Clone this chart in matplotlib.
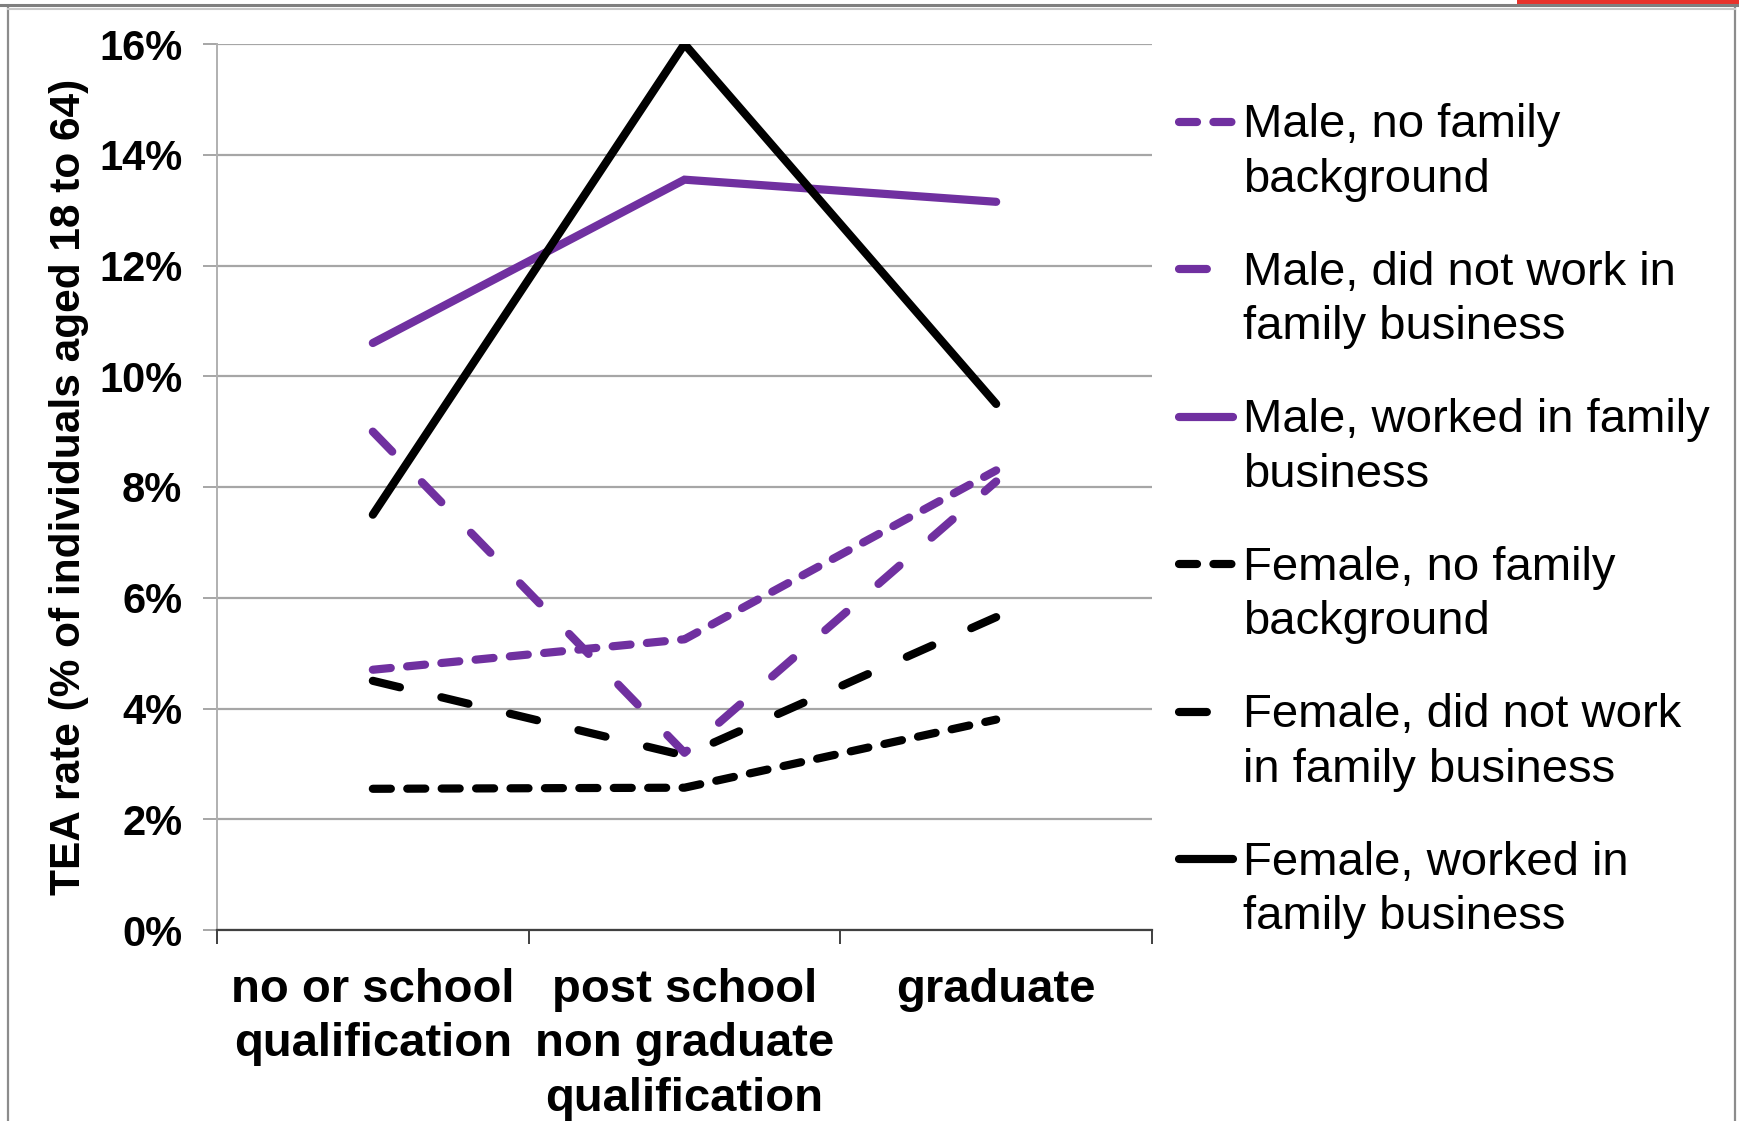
import numpy as np
import matplotlib
matplotlib.use("Agg")
import matplotlib.pyplot as plt
from matplotlib.legend_handler import HandlerLine2D
from matplotlib.lines import Line2D
from matplotlib.patches import Rectangle

# Education levels (x categories)
categories = ["no or school\nqualification",
              "post school\nnon graduate\nqualification",
              "graduate"]

# TEA rate, % of individuals aged 18 to 64
male_no_family = [4.7, 5.25, 8.3]
male_not_worked_family = [9.0, 3.2, 8.1]
male_worked_family = [10.6, 13.55, 13.15]
female_no_family = [2.55, 2.57, 3.8]
female_not_worked_family = [4.5, 3.15, 5.65]
female_worked_family = [7.5, 16.0, 9.5]

series_labels = ["Male, no family\nbackground",
                 "Male, did not work in\nfamily business",
                 "Male, worked in family\nbusiness",
                 "Female, no family\nbackground",
                 "Female, did not work\nin family business",
                 "Female, worked in\nfamily business"]

y_ticks = [0, 2, 4, 6, 8, 10, 12, 14, 16]

PURPLE = "#7030A0"
BLACK = "#000000"
SHORT_DASH = (2.2, 2.0)
LONG_DASH = (3.4, 5.2)

plt.rcParams["font.family"] = ["Liberation Sans", "DejaVu Sans"]

fig = plt.figure(figsize=(17.4, 11.21), dpi=100)
ax = fig.add_axes([217 / 1740, 1 - 930 / 1121, 935 / 1740, 886 / 1121])

x = np.arange(len(categories))
lw = 5.9
series = [
    (male_no_family, PURPLE, SHORT_DASH),
    (male_not_worked_family, PURPLE, LONG_DASH),
    (male_worked_family, PURPLE, None),
    (female_no_family, BLACK, SHORT_DASH),
    (female_not_worked_family, BLACK, LONG_DASH),
    (female_worked_family, BLACK, None),
]
handles = []
for (vals, col, dash), lab in zip(series, series_labels):
    kw = dict(color=col, lw=lw, solid_capstyle="round", dash_capstyle="round",
              solid_joinstyle="miter", label=lab)
    if dash is not None:
        kw["dashes"] = dash
    (ln,) = ax.plot(x, vals, **kw)
    handles.append(ln)

# y axis
ax.set_ylim(0, 16)
ax.set_yticks(y_ticks)
ax.set_yticklabels([f"{v}%" for v in y_ticks], fontsize=30, fontweight="bold")
ax.yaxis.grid(True, color="#a6a6a6", lw=1.6)
ax.set_axisbelow(True)
ax.tick_params(axis="y", length=10, width=1.4, color="#a6a6a6", pad=15)
ax.set_ylabel("TEA rate (% of individuals aged 18 to 64)", fontsize=30.5,
              fontweight="bold")
ax.yaxis.set_label_coords(-0.137, 0.5)

# x axis: boundary ticks, labels centred on categories
ax.set_xlim(-0.5, len(categories) - 0.5)
ax.set_xticks(np.arange(len(categories) + 1) - 0.5)
ax.set_xticklabels([])
ax.set_xticks(x, minor=True)
ax.set_xticklabels(categories, minor=True, fontsize=34, fontweight="bold",
                   linespacing=1.32)
ax.tick_params(axis="x", which="major", length=10, width=1.4, color="#404040")
ax.tick_params(axis="x", which="minor", length=0, pad=27)

for s in ("top", "right"):
    ax.spines[s].set_visible(False)
ax.spines["left"].set_color("#b0b0b0")
ax.spines["left"].set_linewidth(1.4)
ax.spines["bottom"].set_color("#404040")
ax.spines["bottom"].set_linewidth(1.6)


class FirstLineHandler(HandlerLine2D):
    """Place the legend line next to the first line of a two-line label."""

    def create_artists(self, legend, orig_handle, xdescent, ydescent, width,
                       height, fontsize, trans):
        artists = super().create_artists(legend, orig_handle, xdescent,
                                         ydescent, width, height, fontsize,
                                         trans)
        for a in artists:
            a.set_ydata(np.asarray(a.get_ydata()) + 0.66 * fontsize)
        return artists


leg = fig.legend(handles=handles, loc="upper left",
                 bbox_to_anchor=(1179 / 1740, 1 - 103 / 1121),
                 frameon=False, fontsize=34, borderpad=0, borderaxespad=0,
                 handlelength=1.14, handletextpad=0.22, labelspacing=1.03,
                 handler_map={Line2D: FirstLineHandler()})
for t in leg.get_texts():
    t.set_linespacing(1.32)

# outer chart frame
fig.add_artist(Line2D([8 / 1740, 8 / 1740], [0, 1 - 6 / 1121],
                      transform=fig.transFigure, color="#8c8c8c", lw=1.6))
fig.add_artist(Line2D([1735 / 1740, 1735 / 1740], [0, 1 - 6 / 1121],
                      transform=fig.transFigure, color="#8c8c8c", lw=1.6))
fig.add_artist(Line2D([0, 1], [1 - 5 / 1121, 1 - 5 / 1121],
                      transform=fig.transFigure, color="#7f7f7f", lw=2.2))
fig.add_artist(Line2D([8 / 1740, 1735 / 1740], [1 - 9 / 1121, 1 - 9 / 1121],
                      transform=fig.transFigure, color="#c8c8c8", lw=1.5))
fig.add_artist(Rectangle((1517 / 1740, 1 - 4 / 1121), 223 / 1740, 4 / 1121,
                         transform=fig.transFigure, color="#e8322b", lw=0))

fig.savefig("out.png", dpi=100)
